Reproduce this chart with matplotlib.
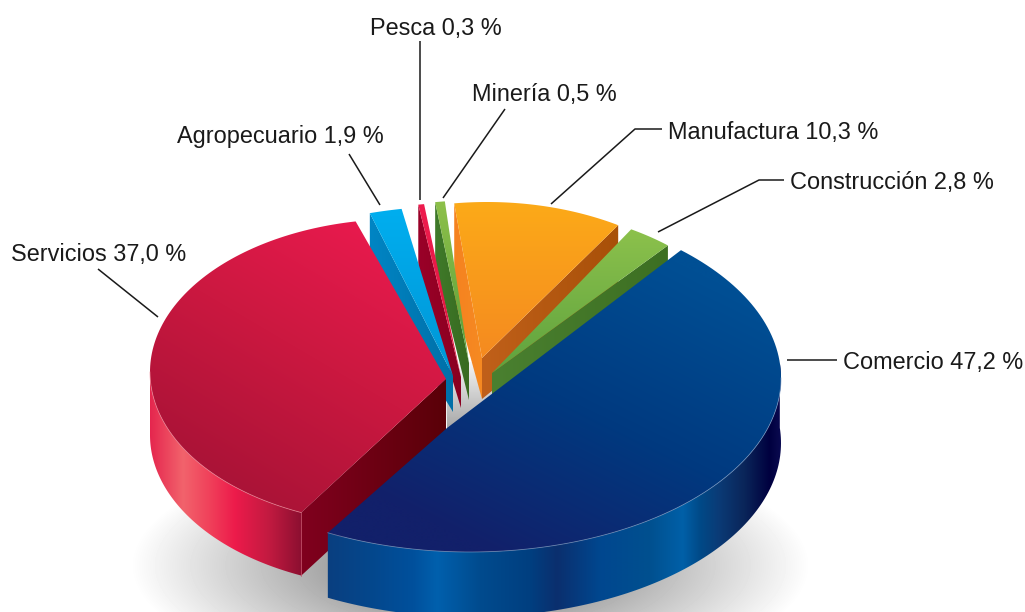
import matplotlib
matplotlib.use('Agg')
import matplotlib.pyplot as plt
from matplotlib.patches import Polygon
from matplotlib.colors import to_rgb
import numpy as np

# datos
sectores = ['Comercio', 'Servicios', 'Agropecuario', 'Pesca', 'Minería', 'Manufactura', 'Construcción']
valores = [47.2, 37.0, 1.9, 0.3, 0.5, 10.3, 2.8]
textos = ['47,2', '37,0', '1,9', '0,3', '0,5', '10,3', '2,8']

# geometria de cada sector (pixeles): centro de la elipse, radios, vertice
centros = [(470, 378), (400, 372), (458, 380), (472.5, 376), (483.6, 374), (487, 376), (504, 368)]
radios = [(311, 174), (250, 153), (311, 174), (311, 174), (311, 174), (263, 174), (255, 160)]
vertices = [(447, 428), (446, 379), (453, 376), (461, 377), (469, 363), (482, 358), (492, 373)]
estirar = [0.968, 1.10, 0.88, 1, 1, 1, 1]
alto = [65, 63, 63, 63, 63, 63, 63]
alto_corte = [0, 63, 63, 63, 63, 95, 0]
alto_vertice = [0, 63, 36, 31, 37, 41, 50]
inicio = 50

# colores: superficie
sup = [['#004f94', '#003a80', '#12206a'], ['#ea1a4e', '#cb1840', '#ab1337'], ['#00aeef', '#0096d6'],
       ['#ee1c4e', '#e0183f'], ['#8dc04a', '#5a9e3a'], ['#fcaa18', '#f58a20'], ['#8cc14c', '#5ea23e']]
lado_a = [None, ['#80001e', '#5a0008'], ['#0085c4', '#0070a8'], ['#9a0028', '#8a0020'],
          ['#3f7a2a', '#386a20'], ['#f58220', '#f68a22'], None]
lado_b = [None, None, None, None, None, ['#c0601a', '#a85008'], ['#4a8030', '#3d6f22']]
pared_azul = [(328, '#0a3f80'), (370, '#04478c'), (413, '#00509c'), (437, '#0060ad'), (480, '#004b8e'),
              (530, '#003f80'), (557, '#0b2f6e'), (600, '#00478f'), (650, '#00508f'), (683, '#0060a8'),
              (700, '#004a88'), (720, '#0b3a75'), (745, '#0a2559'), (770, '#00003f'), (781, '#0a0a50')]
pared_roja = [(150, '#e5264e'), (183, '#f2636c'), (210, '#f0405a'), (235, '#ed1b4b'), (270, '#c11a40'), (302, '#8b0f30')]

# lineas guia
guias = [[(787, 360), (837, 360)], [(98, 269), (158, 317)], [(349, 154), (380, 205)], [(420, 41), (420, 200)],
         [(505, 109), (443, 198)], [(662, 129), (635, 129), (551, 204)], [(784, 180), (759, 180), (658, 232)]]
pos_texto = [(843, 362), (11, 254), (177, 136), (370, 29), (472, 95), (668, 133), (790, 182)]

fig = plt.figure(figsize=(10.25, 6.12), dpi=100)
ax = fig.add_axes([0, 0, 1, 1])


def pintar(pts, p0, p1, xs, colores, z):
    pts = np.array(pts)
    x0, y0 = np.floor(pts.min(axis=0))
    x1, y1 = np.ceil(pts.max(axis=0))
    nx, ny = int(x1 - x0) * 2 + 2, int(y1 - y0) * 2 + 2
    X, Y = np.meshgrid(np.linspace(x0, x1, nx), np.linspace(y0, y1, ny))
    d = np.array(p1, float) - np.array(p0, float)
    f = ((X - p0[0]) * d[0] + (Y - p0[1]) * d[1]) / (d @ d)
    cols = np.array([to_rgb(c) for c in colores])
    rgb = np.dstack([np.interp(f, xs, cols[:, i]) for i in range(3)])
    im = ax.imshow(rgb, extent=(x0, x1, y1, y0), aspect='auto', zorder=z, interpolation='bilinear')
    pol = Polygon(pts, closed=True, transform=ax.transData)
    im.set_clip_path(pol)


def degradado(pts, colores, z, p0=None, p1=None):
    pts = np.array(pts)
    if p0 is None:
        p0 = (pts[:, 0].mean(), pts[:, 1].min())
        p1 = (pts[:, 0].mean(), pts[:, 1].max())
    pintar(pts, p0, p1, np.linspace(0, 1, len(colores)), colores, z)


def arco(c, r, a0, a1, n=120):
    t = np.radians(np.linspace(a0, a1, n))
    return np.column_stack([c[0] + r[0] * np.cos(t), c[1] - r[1] * np.sin(t)])


# sombra
X, Y = np.meshgrid(np.arange(0, 1026), np.arange(420, 613))
r = np.sqrt(((X - 470) / 340.0) ** 2 + ((Y - 565) / 125.0) ** 2)
gris = 255 - 100 * np.clip((1 - r) / 0.65, 0, 1)
ax.imshow(gris / 255, cmap='gray', vmin=0, vmax=1, extent=(0, 1026, 613, 420), aspect='auto', zorder=1)

# piso gris del centro
piso = [(446, 362), (492, 362), (492, 396), (447, 430)]
pintar(piso, (0, 362), (0, 428), [0, 1], ['#f4f4f4', '#a8a8a8'], 2)

acum = np.cumsum([0] + valores)
a_ini = inicio - acum[:-1] * 3.6
a_fin = inicio - acum[1:] * 3.6

# orden de pintado: de atras hacia adelante
orden = [5, 4, 3, 2, 6, 1, 0]
z = 3
for i in orden:
    medio = (a_ini[i] + a_fin[i]) / 2
    mitad = (a_ini[i] - a_fin[i]) / 2 * estirar[i]
    a0, a1 = medio + mitad, medio - mitad
    pts = arco(centros[i], radios[i], a0, a1)
    v = np.array(vertices[i], float)
    h = alto[i]
    hv = alto_vertice[i]

    # pared exterior
    if i == 0:
        ext = arco(centros[i], radios[i], a1, 5)
        pol = np.vstack([ext, ext[::-1] + [0, h]])
        xs = [s[0] for s in pared_azul]
        pintar(pol, (328, 0), (781, 0), (np.array(xs) - 328) / 453.0, [s[1] for s in pared_azul], z)
    if i == 1:
        ext = arco(centros[i], radios[i], -180, a0)
        pol = np.vstack([ext, ext[::-1] + [0, h]])
        xs = [s[0] for s in pared_roja]
        pintar(pol, (150, 0), (302, 0), (np.array(xs) - 150) / 152.0, [s[1] for s in pared_roja], z)
    # paredes de corte
    if lado_a[i] is not None:
        p = pts[0]
        pol = [p, p + [0, alto_corte[i]], v + [0, hv], v]
        degradado(pol, lado_a[i], z, p0=(p[0], 0), p1=(v[0], 0))
    if lado_b[i] is not None:
        p = pts[-1]
        pol = [v, v + [0, hv], p + [0, h], p]
        degradado(pol, lado_b[i], z, p0=(v[0], 0), p1=(p[0], 0))
    z += 1

    # superficie
    tapa = np.vstack([pts, [v]])
    if i == 0:
        degradado(tapa, sup[i], z, p0=(650, 250), p1=(500, 555))
    elif i == 1:
        degradado(tapa, sup[i], z, p0=(380, 225), p1=(230, 480))
    else:
        degradado(tapa, sup[i], z)
    z += 1

    # brillo fino en el borde
    if i == 0:
        ax.plot(*arco(centros[i], radios[i], a1, 0).T, color='#7d9cc4', lw=0.6, alpha=0.7, zorder=z)
    if i == 1:
        ax.plot(*arco(centros[i], radios[i], -180, a0).T, color='#f08a9a', lw=0.6, alpha=0.7, zorder=z)
        p = pts[0]
        ax.plot([p[0], p[0]], [p[1], p[1] + h], color='#c9506a', lw=0.5, zorder=z)
    z += 1

# guias y textos
for i in range(len(sectores)):
    g = np.array(guias[i])
    ax.plot(g[:, 0], g[:, 1], color='#1a1a1a', lw=1.1, zorder=50, solid_capstyle='butt')
    ax.text(pos_texto[i][0], pos_texto[i][1], f'{sectores[i]} {textos[i]} %', fontsize=16.9,
            family='Liberation Sans', color='#1a1a1a', ha='left', va='center', zorder=51)

ax.set_xlim(0, 1025)
ax.set_ylim(612, 0)
ax.axis('off')
fig.savefig('out.png', dpi=100)
